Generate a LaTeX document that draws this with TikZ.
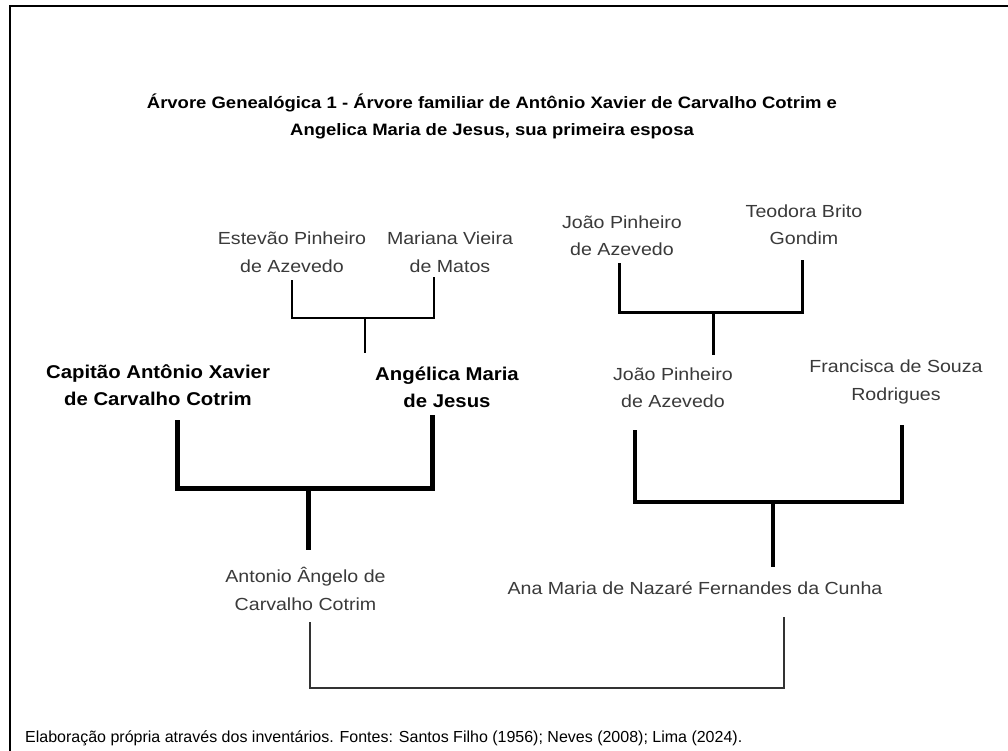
\documentclass[tikz,border=0pt]{standalone}
\usepackage{fontspec}
\setmainfont{Liberation Sans}
\definecolor{namegray}{HTML}{3A3A3A}
\definecolor{linegray}{HTML}{333333}
\tikzset{
  person/.style={font=\fontsize{17.5}{27.5}\selectfont, text=namegray, align=center, xscale=1.12, inner sep=0pt},
  bperson/.style={font=\fontsize{18.5}{27}\selectfont\bfseries, text=black, align=center, xscale=1.1, inner sep=0pt},
  titletext/.style={font=\fontsize{16.5}{27}\selectfont\bfseries, text=black, align=center, xscale=1.12, inner sep=0pt},
  foot/.style={font=\fontsize{16}{20}\selectfont, text=black, anchor=west, inner sep=0pt},
  lnA/.style={line width=2pt, black},
  lnB/.style={line width=3pt, black},
  lnC/.style={line width=5pt, black},
  lnD/.style={line width=4pt, black},
  lnE/.style={line width=2pt, linegray},
  frame/.style={line width=2.5pt, black}
}
\begin{document}
\begin{tikzpicture}[x=1pt, y=-1pt]
\useasboundingbox (0,0) rectangle (1008,751);
\fill[white] (0,0) rectangle (1008,751);
% frame
\draw[frame] (10,751) -- (10,6) -- (1008,6);
% title
\node[titletext] (title) at (492,116.5) {Árvore Genealógica 1 - Árvore familiar de Antônio Xavier de Carvalho Cotrim e\\Angelica Maria de Jesus, sua primeira esposa};
% people
\node[person] (est) at (292,252) {Estevão Pinheiro\\de Azevedo};
\node[person] (mar) at (450,252) {Mariana Vieira\\de Matos};
\node[person] (jp1) at (622,235.5) {João Pinheiro\\de Azevedo};
\node[person] (teo) at (804,224.5) {Teodora Brito\\Gondim};
\node[bperson] (cap) at (158,385) {Capitão Antônio Xavier\\de Carvalho Cotrim};
\node[bperson] (ang) at (447,387.5) {Angélica Maria\\de Jesus};
\node[person] (jp2) at (673,387.5) {João Pinheiro\\de Azevedo};
\node[person] (fra) at (896,382) {Francisca de Souza\\Rodrigues};
\node[person] (aag) at (305.5,589) {Antonio Ângelo de\\Carvalho Cotrim};
\node[person] (ana) at (695,588) {Ana Maria de Nazaré Fernandes da Cunha};
% footer
\node[foot] (footer) at (25,738) {Elaboração própria através dos inventários. Fontes: Santos Filho (1956); Neves (2008); Lima (2024).};
% connector points
\coordinate (estB) at (292,280);
\coordinate (marB) at (434,277);
\coordinate (u1) at (365,318);
\coordinate (u1d) at (365,353);
\coordinate (jp1B) at (619,263);
\coordinate (teoB) at (802,260);
\coordinate (u2) at (713,312);
\coordinate (u2d) at (713,355);
\coordinate (capB) at (177,420);
\coordinate (angB) at (432,415);
\coordinate (u3) at (308,488);
\coordinate (u3d) at (308,550);
\coordinate (jp2B) at (635,430);
\coordinate (fraB) at (902,425);
\coordinate (u4) at (773,502);
\coordinate (u4d) at (773,567);
\coordinate (aagB) at (310,622);
\coordinate (anaB) at (784,617);
\coordinate (u5) at (547,688);
% connectors
\draw[lnA] (estB) |- (u1) -| (marB);
\draw[lnA] (u1) -- (u1d);
\draw[lnB] (jp1B) |- (u2) -| (teoB);
\draw[lnB] (u2) -- (u2d);
\draw[lnC] (capB) |- (u3) -| (angB);
\draw[lnC] (u3) -- (u3d);
\draw[lnD] (jp2B) |- (u4) -| (fraB);
\draw[lnD] (u4) -- (u4d);
\draw[lnE] (aagB) |- (u5) -| (anaB);
\end{tikzpicture}
\end{document}
